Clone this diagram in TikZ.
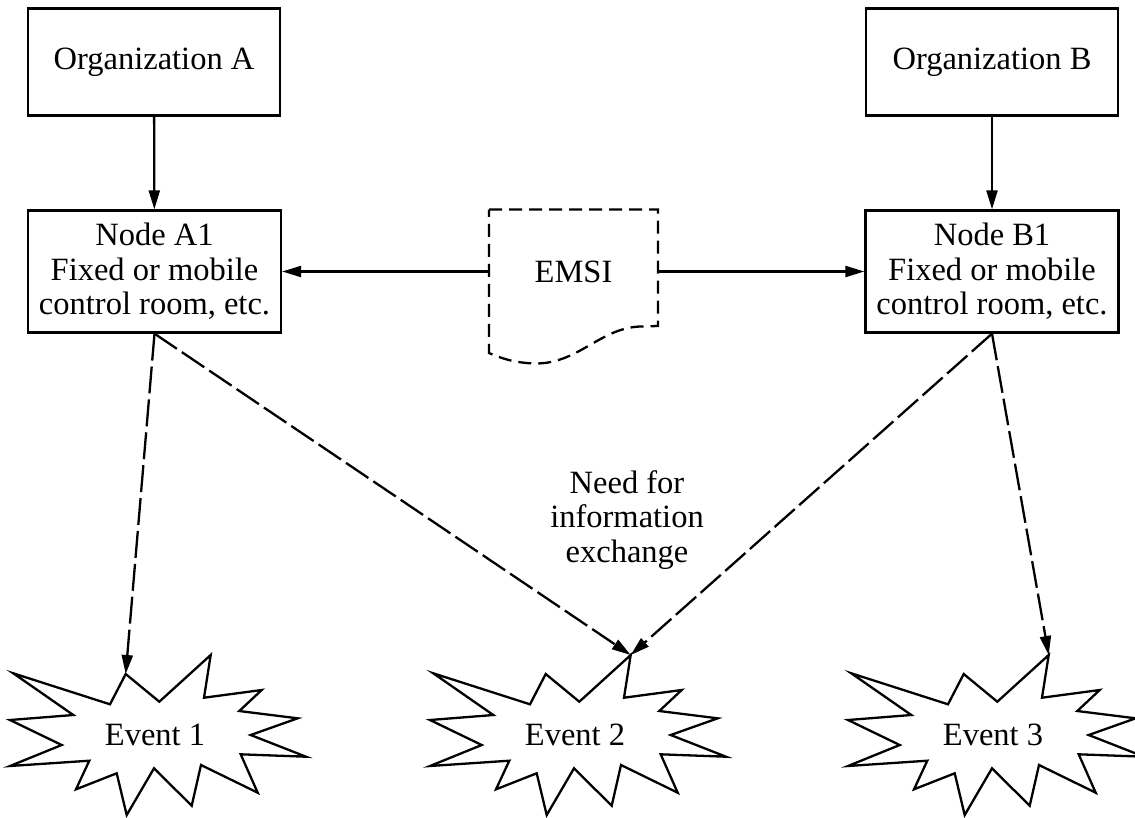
\documentclass[tikz,border=0pt]{standalone}
\usepackage{fontspec}
\setmainfont{Liberation Serif}
\usetikzlibrary{arrows.meta}
\tikzset{
  box/.style={draw, line width=2.3pt, align=center, inner sep=0pt},
  conn/.style={line width=2.3pt, -{Triangle[length=19pt,width=11pt]}},
  dconn/.style={conn, dash pattern=on 27pt off 6pt},
  txt/.style={align=center, inner sep=0pt},
  burst/.pic={
    \draw[line width=2.3pt, line join=miter]
      (-141.7,-61.7) -- (-45,-30.7) -- (-29.3,-61) -- (4.3,-33.3) -- (55.7,-80) -- (49,-37.3)
      -- (106.7,-45) -- (84.3,-24) -- (142.7,-16.7) -- (95.7,0) -- (151,21.7) -- (85.7,19.3)
      -- (102.7,57.7) -- (46,30) -- (36.7,70.7) -- (-1,33.3) -- (-28.3,80) -- (-38.3,38.3)
      -- (-79,54.3) -- (-65.7,25.7) -- (-145,31) -- (-93.3,10) -- (-145,-15) -- (-81.7,-20) -- cycle;
    \node[txt] (-label) at (0,0) {#1};
    \coordinate (-peak) at (-29.3,-61);
    \coordinate (-top) at (55.7,-80);
  }
}
\begin{document}
\begin{tikzpicture}[x=1pt, y=-1pt, font=\fontsize{32.5}{34.5}\selectfont]
\useasboundingbox (0,0) rectangle (1135,817);

\node[box, minimum width=252pt, minimum height=107pt] (orgA) at (154,62) {Organization A};
\node[box, minimum width=252pt, minimum height=107pt] (orgB) at (992,62) {Organization B};
\node[box, minimum width=253pt, minimum height=122pt] (a1) at (154.5,271.5) {Node A1\\Fixed or mobile\\control room, etc.};
\node[box, minimum width=253pt, minimum height=122pt] (b1) at (992,271.5) {Node B1\\Fixed or mobile\\control room, etc.};

% EMSI document shape
\node[txt, minimum width=169pt] (emsi) at (573.5,271.5) {EMSI};
\draw[line width=2.3pt, dash pattern=on 13pt off 7pt]
  (489,209.5) -- (658,209.5) -- (658,326) -- (640,326.5)
  .. controls (600,328) and (578,364) .. (535,363.5)
  .. controls (515,363) and (500,358) .. (489,353) -- cycle;

\pic (e1) at (155,735) {burst=Event 1};
\pic (e2) at (575,735) {burst=Event 2};
\pic (e3) at (993,735) {burst=Event 3};

\node[txt] (need) at (627,520) {Need for\\information\\exchange};

\draw[conn] (orgA) -- (a1);
\draw[conn] (orgB) -- (b1);
\draw[conn] (emsi.west) -- (emsi.west -| a1.east);
\draw[conn] (emsi.east) -- (emsi.east -| b1.west);

\draw[dconn] (a1.south) -- (e1-peak);
\draw[dconn] (a1.south) -- (e2-top);
\draw[dconn] (b1.south) -- (e2-top);
\draw[dconn] (b1.south) -- (e3-top);
\end{tikzpicture}
\end{document}
